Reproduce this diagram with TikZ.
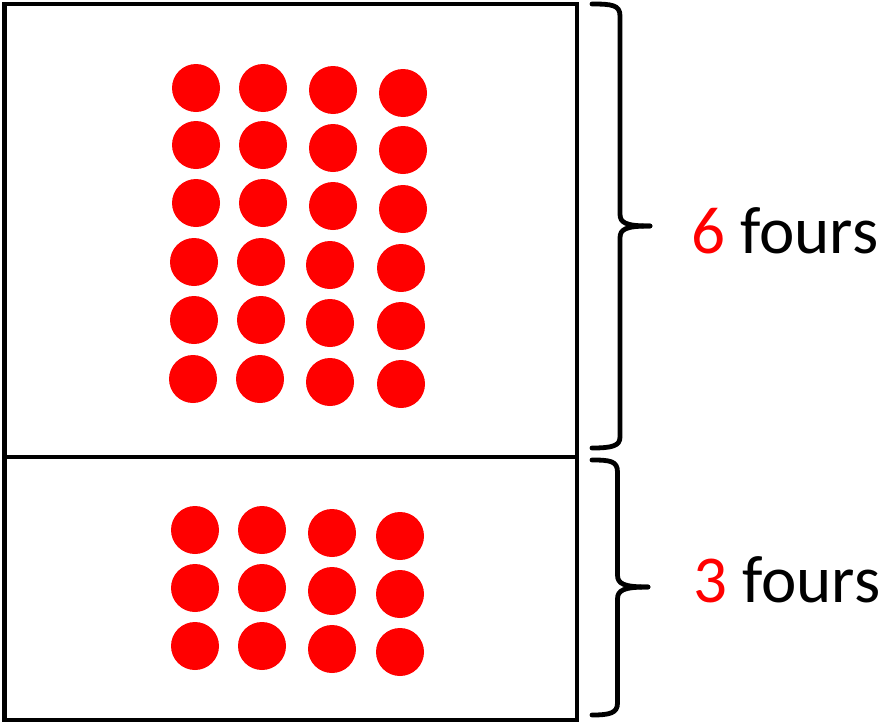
\documentclass[tikz,border=0pt]{standalone}
\usepackage{fontspec}
\setmainfont{Carlito}
\definecolor{dotred}{RGB}{255,0,0}
\tikzset{
  frame/.style={line width=4.5pt, draw=black},
  bracestyle/.style={line width=4.8pt, draw=black, line cap=round, line join=round},
  dot/.style={fill=dotred},
  label/.style={font=\fontsize{67}{72}\selectfont, anchor=base west, inner sep=0pt}
}
\begin{document}
\begin{tikzpicture}[x=1pt,y=-1pt]
\useasboundingbox (0,0) rectangle (881,723);
% boxes
\draw[frame] (4.5,4) rectangle (577,457);
\draw[frame] (4.5,457) rectangle (577,720);
% top dots
\foreach \yy/\xa/\xb/\xc/\xd/\ya/\yb/\yc/\yd in {
  0/196/263/333/403/88/88/90/93,
  1/196/263/333/403/145/145/148/150,
  2/196/263/333/403/203/203/206/209,
  3/194/261/330/401/262/262/265/268,
  4/194/261/330/401/320/320/323/326,
  5/193/260/330/401/379/379/382/384}{
  \fill[dot] (\xa,\ya) circle (24);
  \fill[dot] (\xb,\yb) circle (24);
  \fill[dot] (\xc,\yc) circle (24);
  \fill[dot] (\xd,\yd) circle (24);
}
% bottom dots
\foreach \ya/\yc/\yd in {530/533/536, 588/591/594, 646/649/652}{
  \fill[dot] (195,\ya) circle (24);
  \fill[dot] (262,\ya) circle (24);
  \fill[dot] (332,\yc) circle (24);
  \fill[dot] (400,\yd) circle (24);
}
% braces
\draw[bracestyle] (592,4) .. controls (612,4) and (620,5) .. (620,16) -- (620,214)
  .. controls (620,223) and (626,226) .. (650,226);
\draw[bracestyle] (650,226) .. controls (626,226) and (620,229) .. (620,238) -- (620,437)
  .. controls (620,446) and (612,448) .. (592,448);
\draw[bracestyle] (592,460) .. controls (610,460) and (617.5,461) .. (617.5,472) -- (617.5,575)
  .. controls (617.5,584) and (624,587) .. (648,587);
\draw[bracestyle] (648,587) .. controls (624,587) and (617.5,590) .. (617.5,599) -- (617.5,703)
  .. controls (617.5,713) and (610,715) .. (592,715);
% labels
\node[label] (six) at (691,253) {\textcolor{dotred}{6} fours};
\node[label] (three) at (693,602) {\textcolor{dotred}{3} fours};
\end{tikzpicture}
\end{document}
